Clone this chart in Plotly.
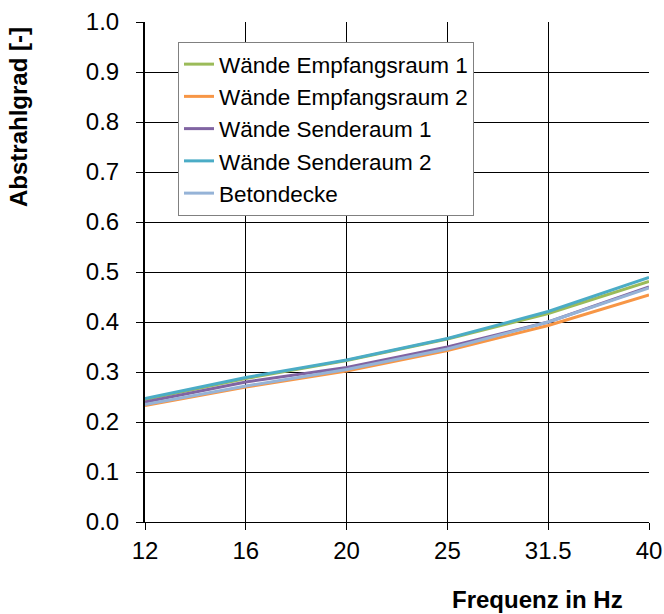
import plotly.graph_objects as go

freq_labels = ["12", "16", "20", "25", "31.5", "40"]
empfang1 = [0.245, 0.287, 0.323, 0.366, 0.417, 0.481]
empfang2 = [0.233, 0.270, 0.302, 0.343, 0.393, 0.454]
sender1 = [0.240, 0.280, 0.309, 0.350, 0.400, 0.470]
sender2 = [0.247, 0.289, 0.324, 0.367, 0.421, 0.489]
betondecke = [0.235, 0.272, 0.305, 0.346, 0.400, 0.468]

series = [
    ("Wände Empfangsraum 1", empfang1, "#9BBB59"),
    ("Wände Empfangsraum 2", empfang2, "#F79646"),
    ("Wände Senderaum 1", sender1, "#8064A2"),
    ("Wände Senderaum 2", sender2, "#4BACC6"),
    ("Betondecke", betondecke, "#95B3D7"),
]

FONT = "Liberation Sans, Arial, sans-serif"
L, R, T, B = 145, 15, 22, 92
W, H = 664, 614
pw, ph = W - L - R, H - T - B


def px2paper(px, py):
    return (px - L) / pw, 1 - (py - T) / ph


fig = go.Figure()
for i, (name, vals, col) in enumerate(series):
    fig.add_trace(go.Scatter(
        x=freq_labels, y=vals, mode="lines", name=name,
        line=dict(color=col, width=3), legendgroup=f"g{i}",
    ))

lx, ly = px2paper(178, 42)
tx, ty = px2paper(537, 599)
yx, yy = px2paper(19, 117)

fig.update_layout(
    width=W, height=H,
    margin=dict(l=L, r=R, t=T, b=B, autoexpand=False),
    paper_bgcolor="white", plot_bgcolor="white",
    font=dict(family=FONT, size=24, color="black"),
    showlegend=True,
    legend=dict(
        x=lx, y=ly, xanchor="left", yanchor="top",
        bgcolor="white", bordercolor="#808080", borderwidth=1,
        font=dict(size=22.5, color="black"),
        tracegroupgap=0, itemwidth=30,
    ),
    xaxis=dict(
        type="category", range=[0, 5], automargin=False,
        showgrid=True, gridcolor="black", gridwidth=1,
        showline=True, linecolor="black", linewidth=1,
        ticks="outside", ticklen=7, tickcolor="black",
        tickfont=dict(size=24), zeroline=False,
    ),
    yaxis=dict(
        range=[0, 1.0], tickvals=[i / 10 for i in range(11)],
        tickformat=".1f", automargin=False,
        showgrid=True, gridcolor="black", gridwidth=1,
        showline=True, linecolor="black", linewidth=2,
        ticks="outside", ticklen=7, tickcolor="black",
        tickfont=dict(size=24), zeroline=False,
        ticklabelstandoff=12,
    ),
    annotations=[
        dict(text="<b>Frequenz in Hz</b>", x=tx, y=ty, xref="paper", yref="paper",
             xanchor="center", yanchor="middle",
             showarrow=False, font=dict(size=24)),
        dict(text="<b>Abstrahlgrad [-]</b>", x=yx, y=yy, xref="paper", yref="paper",
             xanchor="center", yanchor="middle",
             textangle=-90, showarrow=False, font=dict(size=24)),
    ],
)

fig.write_html("out.html", config={"displayModeBar": False},
               post_script="document.body.style.margin='0';document.body.style.overflow='hidden';")
